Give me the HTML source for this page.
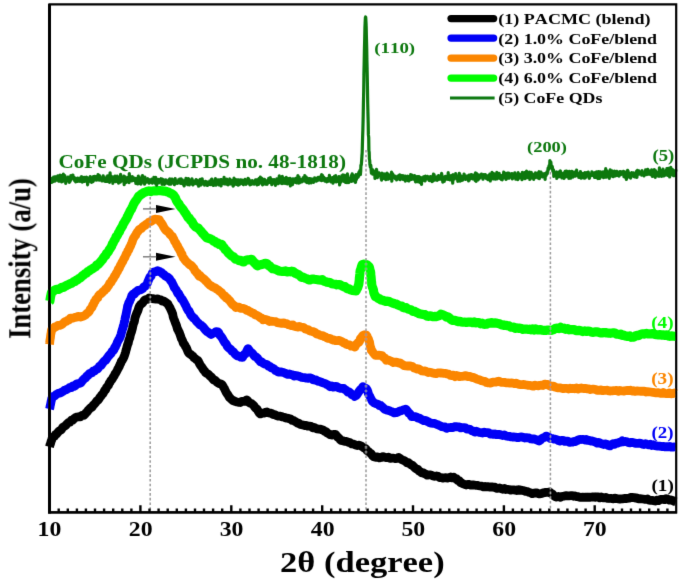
<!DOCTYPE html>
<html><head><meta charset="utf-8"><style>
html,body{margin:0;padding:0;background:#fff;}
body{width:685px;height:583px;overflow:hidden;}
svg{display:block;}
#w{width:685px;height:583px;will-change:transform;}
.t{font-family:"Liberation Serif",serif;font-weight:bold;font-kerning:none;}
</style></head><body>
<div id="w"><svg width="685" height="583" viewBox="0 0 685 583"><defs><filter id="bl" x="0" y="0" width="685" height="583" filterUnits="userSpaceOnUse"><feConvolveMatrix order="3" kernelMatrix="0 1 0 1 8 1 0 1 0" divisor="12" edgeMode="none" preserveAlpha="false"/></filter></defs><rect width="685" height="583" fill="#fff"/><g filter="url(#bl)"><path d="M49.5,446.8 L50.0,444.9 L50.5,443.8 L51.1,441.4 L51.6,440.3 L52.1,438.4 L53.2,436.9 L54.4,436.3 L55.5,434.6 L56.7,433.9 L57.9,432.3 L59.0,431.2 L60.2,430.4 L61.3,429.7 L62.5,427.7 L63.7,426.7 L64.9,426.0 L66.0,425.2 L67.2,423.6 L68.6,422.5 L69.9,422.2 L71.3,420.2 L72.7,420.3 L74.0,418.7 L75.4,417.6 L77.1,417.0 L78.7,416.7 L80.4,416.8 L82.0,415.5 L83.7,415.4 L84.9,414.3 L86.0,412.8 L87.2,411.8 L88.4,410.0 L89.6,408.8 L90.7,407.8 L91.9,407.2 L92.9,405.7 L94.0,404.4 L95.0,403.5 L96.0,402.1 L97.0,400.8 L98.0,400.2 L99.1,398.8 L100.1,397.1 L101.0,396.1 L101.9,394.7 L102.9,393.8 L103.8,392.2 L104.7,390.3 L105.6,389.8 L106.6,387.4 L107.5,386.4 L108.4,385.4 L109.2,383.3 L110.0,382.3 L110.9,380.4 L111.7,379.8 L112.5,378.6 L113.3,377.0 L114.1,376.0 L115.0,373.9 L115.8,373.0 L116.6,371.5 L117.3,370.1 L118.0,368.6 L118.6,367.7 L119.3,366.4 L120.0,364.5 L120.7,363.3 L121.4,361.2 L122.1,360.6 L122.8,359.2 L123.4,358.2 L124.1,356.7 L124.8,354.6 L125.2,353.3 L125.6,352.1 L126.1,349.9 L126.5,348.9 L126.9,347.1 L127.3,345.6 L127.8,344.0 L128.2,343.4 L128.6,341.2 L129.0,339.8 L129.5,338.5 L129.9,337.6 L130.3,335.2 L130.7,334.1 L131.1,332.7 L131.6,331.5 L132.0,329.9 L132.4,328.4 L132.8,326.2 L133.2,324.8 L133.6,323.2 L134.1,322.3 L134.5,320.8 L134.9,318.3 L135.3,316.8 L135.9,315.3 L136.5,313.7 L137.1,312.4 L137.8,310.9 L138.4,308.9 L139.0,307.0 L139.6,305.9 L140.6,304.6 L141.6,303.7 L142.7,302.9 L143.7,301.4 L144.7,300.0 L146.2,299.6 L147.7,299.2 L149.2,298.0 L150.7,298.5 L152.4,298.6 L154.1,298.9 L155.9,299.1 L157.6,298.9 L159.1,299.5 L160.6,299.8 L162.1,301.0 L163.6,301.0 L165.0,301.9 L166.5,303.0 L167.9,303.9 L168.6,305.5 L169.3,306.6 L170.1,308.0 L170.8,309.6 L171.5,311.0 L172.2,312.7 L172.7,314.1 L173.2,316.9 L173.7,318.4 L174.2,319.6 L174.8,321.1 L175.3,322.6 L175.9,324.1 L176.4,325.2 L177.0,327.5 L177.5,329.1 L178.1,329.9 L178.6,331.3 L179.2,332.2 L179.7,333.7 L180.3,335.4 L180.8,336.7 L181.4,338.8 L181.9,339.4 L182.5,340.6 L183.3,343.1 L184.0,344.0 L184.8,344.9 L185.5,346.7 L186.3,347.5 L187.0,349.4 L187.8,351.3 L188.5,352.6 L189.3,353.7 L190.5,354.2 L191.7,355.3 L192.9,356.1 L194.0,357.8 L195.2,358.5 L196.4,359.7 L197.6,360.2 L198.5,361.4 L199.4,363.5 L200.3,365.1 L201.2,366.3 L202.1,367.6 L203.0,369.0 L203.8,370.2 L204.7,370.9 L205.5,372.5 L206.7,373.3 L207.8,373.9 L209.0,374.9 L210.2,376.2 L211.4,377.1 L212.5,378.6 L213.7,379.9 L215.1,380.3 L216.5,381.8 L217.8,382.7 L219.2,383.6 L220.6,383.8 L222.0,384.6 L222.8,385.9 L223.6,387.3 L224.5,388.7 L225.3,390.5 L226.1,392.2 L226.9,393.5 L227.7,394.5 L228.6,396.0 L229.4,397.6 L230.2,398.1 L231.6,399.5 L232.9,400.5 L234.3,401.0 L235.7,401.6 L237.0,402.0 L238.4,402.3 L240.1,402.5 L241.7,401.4 L243.4,401.4 L245.0,401.1 L246.7,399.9 L247.9,400.9 L249.0,402.5 L250.2,403.2 L251.4,403.5 L252.6,404.4 L253.7,405.4 L254.9,407.3 L256.0,408.5 L257.1,409.1 L258.2,411.3 L259.3,412.9 L260.4,413.9 L262.0,413.2 L263.7,413.2 L265.3,412.4 L267.0,412.0 L268.6,412.9 L270.2,413.1 L271.7,413.5 L273.3,414.6 L274.9,414.6 L276.5,415.7 L278.0,416.2 L279.6,416.1 L281.2,416.5 L282.7,417.0 L284.3,417.3 L285.9,418.1 L287.5,418.1 L289.0,418.7 L290.6,418.8 L292.0,420.4 L293.3,420.4 L294.7,421.2 L296.1,422.1 L297.4,423.1 L298.8,423.2 L300.1,424.5 L301.5,424.7 L303.1,425.1 L304.6,425.5 L306.2,425.3 L307.8,426.2 L309.4,426.2 L310.9,426.4 L312.5,427.8 L314.1,427.4 L315.6,428.2 L317.2,428.9 L318.8,429.1 L320.4,429.2 L321.9,429.8 L323.5,430.3 L324.8,431.5 L326.1,431.6 L327.4,433.1 L328.7,433.7 L330.0,434.6 L331.8,435.0 L333.7,434.4 L335.5,434.3 L336.6,435.8 L337.7,437.2 L338.8,437.9 L339.9,439.3 L341.0,440.4 L342.8,440.8 L344.7,441.4 L346.5,441.4 L348.3,442.2 L350.2,442.8 L352.0,444.0 L353.8,444.2 L355.6,445.0 L357.4,445.5 L359.2,445.2 L361.1,446.1 L362.9,447.0 L364.0,448.0 L365.1,448.3 L366.2,449.3 L367.3,450.8 L368.4,451.5 L369.8,452.8 L371.1,453.7 L372.5,455.6 L373.9,456.8 L375.7,457.3 L377.6,456.8 L379.4,457.8 L381.2,457.5 L383.1,456.6 L384.9,457.3 L386.6,457.7 L388.4,457.2 L390.1,458.4 L391.8,458.1 L393.5,458.1 L395.2,458.6 L396.9,458.3 L398.6,457.4 L400.0,458.5 L401.4,459.4 L402.7,460.0 L404.1,460.6 L405.6,461.5 L407.1,462.8 L408.5,462.7 L410.0,464.1 L411.3,464.9 L412.6,465.4 L413.8,466.7 L415.1,468.1 L416.4,468.9 L417.7,469.2 L419.1,471.1 L420.4,471.7 L421.7,472.8 L423.0,472.6 L424.4,473.6 L425.7,474.1 L427.2,475.2 L428.8,474.8 L430.4,474.9 L431.9,475.4 L433.4,476.2 L435.0,476.3 L436.6,476.0 L438.1,476.3 L439.7,477.6 L441.3,477.6 L442.8,478.1 L444.4,477.8 L445.9,477.6 L447.5,478.1 L449.0,477.6 L450.6,477.0 L452.1,477.8 L453.7,477.3 L455.0,478.5 L456.4,478.6 L457.7,480.5 L459.1,480.6 L460.4,482.5 L461.8,483.0 L463.1,483.9 L464.7,484.4 L466.2,485.0 L467.8,484.4 L469.3,484.5 L470.8,485.1 L472.4,485.0 L474.0,485.0 L475.5,485.3 L477.1,485.3 L478.7,485.7 L480.2,486.0 L481.8,486.2 L483.5,486.9 L485.1,486.5 L486.8,486.9 L488.4,486.7 L490.1,487.1 L491.7,486.9 L493.4,487.3 L495.0,487.2 L496.5,488.3 L498.1,488.3 L499.7,488.0 L501.2,488.6 L502.8,489.3 L504.4,488.5 L505.9,489.5 L507.5,489.3 L509.0,489.5 L510.6,490.1 L512.1,489.8 L513.7,489.9 L515.2,490.1 L516.8,490.5 L518.4,489.7 L519.9,490.3 L521.5,490.1 L523.0,490.6 L524.6,491.0 L526.1,491.5 L527.7,491.7 L529.2,492.4 L530.8,492.9 L532.4,493.7 L533.9,493.1 L535.5,493.0 L537.1,492.9 L538.6,493.8 L540.2,493.8 L541.8,493.4 L543.3,492.8 L544.9,492.5 L546.4,492.4 L548.0,492.4 L549.5,491.9 L550.9,493.2 L552.3,493.9 L553.7,495.6 L555.1,496.5 L556.5,497.0 L558.5,496.5 L560.6,497.3 L562.3,496.3 L564.0,496.2 L565.8,495.6 L567.5,495.9 L569.2,495.8 L570.9,495.7 L572.4,495.6 L573.8,496.3 L575.3,496.0 L576.8,496.6 L578.3,496.7 L579.7,497.4 L581.2,497.3 L582.7,497.1 L584.3,497.3 L585.8,497.1 L587.4,497.4 L588.9,497.1 L590.4,497.3 L592.0,497.0 L593.5,497.0 L595.0,497.3 L596.6,496.8 L598.1,496.9 L599.7,497.8 L601.2,497.0 L602.8,497.8 L604.4,497.8 L605.9,497.3 L607.4,498.3 L609.0,498.5 L610.5,498.3 L612.0,498.6 L613.6,498.8 L615.1,498.1 L616.7,498.7 L618.2,498.8 L619.8,499.1 L621.3,498.9 L622.9,498.8 L624.4,498.4 L626.0,498.6 L627.5,498.3 L629.1,498.2 L630.6,497.5 L632.1,497.4 L633.7,497.6 L635.2,498.0 L636.8,497.8 L638.3,498.8 L639.8,498.6 L641.4,498.8 L642.9,499.0 L644.4,499.3 L646.0,499.3 L647.5,499.0 L649.1,500.2 L650.6,500.4 L652.2,500.4 L653.8,500.7 L655.3,501.1 L656.8,500.1 L658.4,500.7 L659.9,499.8 L661.5,499.3 L663.0,499.3 L664.5,499.6 L666.1,498.7 L667.6,499.1 L669.3,500.0 L670.9,500.0 L672.6,500.5 L674.2,501.3 L675.9,501.9" fill="none" stroke="#000000" stroke-width="8.8" stroke-linejoin="round" stroke-linecap="butt"/><path d="M49.5,409.2 L49.9,407.7 L50.2,405.8 L50.6,404.2 L51.0,401.9 L51.4,400.3 L51.7,398.8 L52.1,397.7 L53.5,396.4 L54.8,395.9 L56.2,394.5 L57.6,393.7 L59.0,393.2 L60.3,392.9 L61.7,392.1 L63.1,391.4 L64.5,390.3 L65.8,389.9 L67.2,389.1 L68.6,388.4 L70.0,387.3 L71.3,387.6 L72.7,386.0 L74.1,386.3 L75.4,385.6 L76.8,383.8 L78.2,383.6 L79.5,383.4 L80.9,382.9 L82.1,381.1 L83.3,379.7 L84.5,378.4 L85.6,378.1 L86.8,376.1 L88.0,375.4 L89.2,373.7 L90.6,373.2 L91.9,372.8 L93.3,370.9 L94.7,370.8 L96.0,369.5 L97.4,369.1 L98.6,367.7 L99.7,365.9 L100.9,365.6 L102.1,363.9 L103.3,362.2 L104.4,361.0 L105.6,360.4 L106.5,359.1 L107.4,357.7 L108.4,356.3 L109.3,355.3 L110.2,354.1 L111.1,353.5 L112.1,351.2 L113.0,350.9 L113.9,349.8 L114.6,347.6 L115.3,347.2 L115.9,345.5 L116.6,344.4 L117.3,342.3 L118.0,341.0 L118.7,339.7 L119.3,339.0 L120.0,337.2 L120.7,335.5 L121.1,334.1 L121.5,332.4 L122.0,330.6 L122.4,329.1 L122.8,328.5 L123.2,326.3 L123.7,325.6 L124.1,323.2 L124.5,321.7 L124.8,320.4 L125.1,318.4 L125.4,317.0 L125.7,316.1 L126.0,314.5 L126.4,312.8 L126.7,311.0 L127.0,309.7 L127.3,308.1 L127.6,306.1 L128.2,304.8 L128.8,302.5 L129.4,301.9 L130.1,300.1 L130.7,298.9 L131.3,297.3 L131.9,295.4 L133.1,294.1 L134.3,294.2 L135.5,292.2 L136.7,291.6 L137.9,290.4 L140.0,290.0 L141.3,289.4 L142.6,288.7 L143.9,286.8 L145.2,286.2 L146.5,284.8 L147.2,283.5 L147.9,281.8 L148.6,280.0 L149.3,278.4 L150.0,276.9 L150.9,276.3 L151.8,274.4 L152.6,272.6 L153.5,272.0 L155.5,271.7 L157.5,270.7 L158.8,271.1 L160.2,271.9 L161.5,272.5 L162.8,273.9 L164.2,274.8 L165.5,276.1 L167.3,277.0 L169.2,278.3 L170.4,280.4 L171.7,281.9 L172.3,283.0 L173.0,284.5 L173.7,286.1 L174.3,287.5 L175.2,288.7 L176.0,289.6 L176.8,291.2 L177.7,293.3 L178.7,293.7 L179.6,295.6 L180.6,297.2 L181.5,299.0 L182.5,299.7 L183.4,301.2 L184.2,302.7 L185.1,304.4 L186.0,305.9 L186.7,307.9 L187.5,309.2 L188.2,310.6 L189.0,311.0 L189.7,312.4 L190.6,314.5 L191.6,316.0 L192.5,316.7 L193.4,318.1 L194.5,318.5 L195.6,320.0 L196.7,321.7 L197.8,322.6 L198.9,323.7 L200.1,325.0 L201.2,325.3 L202.4,326.3 L203.5,327.5 L204.7,329.1 L205.8,330.4 L207.1,331.7 L208.4,332.4 L209.7,333.3 L211.0,334.4 L212.7,333.4 L214.4,332.9 L216.1,331.6 L217.8,331.8 L218.6,332.5 L219.5,334.7 L220.3,335.7 L221.2,336.6 L222.0,337.8 L222.9,339.3 L223.8,341.1 L224.7,342.6 L225.6,343.3 L226.5,344.6 L227.4,346.5 L228.6,347.8 L229.8,348.7 L231.0,349.7 L232.1,351.3 L233.3,351.8 L234.5,353.3 L235.7,354.7 L237.4,355.9 L239.1,356.2 L240.8,357.2 L242.5,357.4 L243.4,355.7 L244.3,354.4 L245.2,353.9 L246.2,352.2 L247.1,350.3 L248.0,348.6 L249.2,350.3 L250.3,351.7 L251.4,352.6 L252.6,353.5 L253.8,355.2 L254.9,356.6 L256.0,356.9 L257.1,357.7 L258.2,359.2 L259.3,360.4 L260.4,361.8 L261.8,361.9 L263.1,363.3 L264.5,363.9 L265.9,364.3 L267.2,364.7 L268.6,366.3 L270.0,366.4 L271.3,367.9 L272.7,368.1 L274.1,369.0 L275.4,370.6 L276.8,371.0 L278.4,372.1 L279.9,372.0 L281.5,372.0 L283.1,372.4 L284.7,373.0 L286.2,373.7 L287.8,374.4 L289.4,373.9 L290.9,374.6 L292.5,374.8 L294.1,376.1 L295.7,375.5 L297.2,375.8 L298.8,376.2 L300.4,376.8 L301.9,377.5 L303.5,377.7 L305.1,377.7 L306.7,378.2 L308.2,378.3 L309.8,377.8 L311.4,378.2 L312.9,379.7 L314.5,380.1 L316.0,379.8 L317.6,381.1 L319.1,381.4 L320.7,381.9 L322.2,382.6 L323.8,383.1 L325.4,383.6 L326.9,384.6 L328.4,385.3 L330.0,386.7 L331.7,385.9 L333.4,387.1 L335.2,386.4 L336.9,386.7 L338.6,387.8 L340.3,388.3 L342.0,388.3 L343.7,388.4 L345.1,389.7 L346.4,390.4 L347.8,392.0 L349.2,391.9 L350.6,393.2 L351.9,394.9 L353.3,394.9 L354.7,396.4 L356.1,395.5 L357.4,394.0 L358.8,391.7 L359.8,390.4 L360.9,389.1 L361.9,388.8 L362.9,386.6 L364.6,387.8 L366.4,388.7 L367.1,389.7 L367.8,391.4 L368.4,393.9 L369.1,395.2 L369.8,396.2 L370.5,398.1 L371.1,399.0 L371.8,400.4 L372.5,401.4 L374.3,403.0 L376.2,403.8 L378.0,404.2 L379.4,405.6 L380.8,405.5 L382.1,406.8 L383.5,408.1 L384.9,409.3 L386.2,410.0 L387.6,410.1 L389.0,410.6 L390.7,411.3 L392.4,411.9 L394.2,412.9 L395.9,412.5 L397.3,412.5 L398.6,411.6 L400.0,410.9 L401.9,410.4 L403.9,409.8 L405.8,409.1 L406.8,410.3 L407.8,411.5 L408.8,413.2 L409.7,413.5 L410.7,414.9 L411.7,416.7 L413.2,416.5 L414.8,416.6 L416.4,417.0 L417.9,418.0 L419.4,418.1 L421.0,419.3 L422.4,419.9 L423.8,420.7 L425.2,420.5 L426.6,421.0 L428.0,421.7 L429.6,422.6 L431.1,423.2 L432.7,423.3 L434.3,423.4 L435.8,424.0 L437.4,424.6 L438.9,425.3 L440.5,426.0 L442.0,426.7 L443.6,427.0 L445.1,427.0 L446.7,428.4 L448.3,427.6 L449.8,427.7 L451.4,427.3 L453.0,427.6 L454.5,426.7 L456.1,426.6 L457.7,426.8 L459.2,426.9 L460.8,427.9 L462.3,427.7 L463.8,427.6 L465.4,427.9 L466.9,429.2 L468.5,429.2 L470.0,429.4 L471.6,430.7 L473.1,431.1 L474.7,432.1 L476.3,431.2 L477.8,431.9 L479.4,432.5 L481.0,432.7 L482.5,433.0 L484.1,432.1 L485.7,432.7 L487.2,432.6 L488.8,432.9 L490.3,434.1 L491.8,433.8 L493.4,434.4 L495.0,433.9 L496.5,434.7 L498.1,434.4 L499.7,434.3 L501.2,435.1 L502.8,435.5 L504.4,434.9 L505.9,435.9 L507.5,436.3 L509.0,436.3 L510.6,436.8 L512.1,437.0 L513.7,437.0 L515.2,437.1 L516.8,437.5 L518.4,437.6 L519.9,437.0 L521.5,436.8 L523.0,437.4 L524.6,438.0 L526.1,437.6 L527.7,437.9 L529.2,438.0 L530.8,438.9 L532.4,439.0 L534.1,438.9 L535.7,439.5 L537.4,440.3 L539.0,441.0 L540.4,440.1 L541.8,438.5 L543.2,437.7 L544.6,437.4 L546.0,436.1 L547.5,436.5 L548.9,437.1 L550.3,438.5 L551.8,438.3 L553.5,439.0 L555.1,439.1 L556.8,439.6 L558.5,440.5 L560.0,441.0 L561.6,440.5 L563.1,440.5 L564.7,441.4 L566.2,441.1 L567.8,441.1 L569.4,442.4 L570.9,442.1 L572.4,442.2 L574.0,441.3 L575.5,441.5 L577.0,440.6 L578.6,439.9 L580.1,439.3 L581.7,439.5 L583.2,439.3 L584.8,440.0 L586.3,439.4 L587.9,440.4 L589.4,440.5 L591.0,441.0 L592.5,441.0 L594.1,441.6 L595.6,442.2 L597.2,443.1 L598.8,442.4 L600.4,443.2 L602.0,443.9 L603.6,444.5 L605.2,443.9 L606.8,444.2 L608.4,445.5 L610.0,445.9 L611.5,444.8 L613.1,443.7 L614.6,444.3 L616.1,443.1 L617.7,443.2 L619.2,442.4 L620.8,442.1 L622.3,440.8 L623.8,441.8 L625.4,441.4 L627.0,441.8 L628.5,442.6 L630.0,442.8 L631.6,442.3 L633.2,442.6 L634.7,443.1 L636.2,443.4 L637.8,443.3 L639.3,443.2 L640.9,443.4 L642.4,444.2 L643.9,444.5 L645.5,443.6 L647.0,444.4 L648.5,444.9 L650.1,444.2 L651.6,445.5 L653.2,444.8 L654.8,445.7 L656.3,445.9 L657.9,446.2 L659.4,446.1 L660.9,446.3 L662.4,446.6 L663.9,446.5 L665.4,446.9 L666.9,446.7 L668.4,446.8 L669.9,446.4 L671.4,447.2 L672.9,447.1 L674.4,446.9 L675.9,447.3" fill="none" stroke="#0000f6" stroke-width="8.8" stroke-linejoin="round" stroke-linecap="butt"/><path d="M49.5,344.3 L49.7,342.8 L49.9,340.8 L50.2,338.9 L50.4,337.7 L50.6,335.8 L50.8,334.2 L51.1,333.0 L51.3,331.1 L51.5,329.9 L53.1,328.8 L54.6,327.1 L56.2,326.7 L57.9,325.3 L59.7,325.4 L61.4,324.7 L63.1,323.4 L64.8,321.8 L66.5,321.3 L67.8,320.3 L69.1,320.0 L70.4,318.2 L71.7,318.1 L73.4,318.0 L75.1,317.3 L76.8,317.1 L78.5,316.3 L80.3,317.1 L82.0,316.5 L83.7,316.0 L85.4,315.0 L87.1,313.1 L88.1,312.6 L89.2,311.5 L90.2,309.2 L91.2,308.3 L92.0,307.3 L92.7,305.1 L93.5,304.5 L94.2,302.2 L95.0,301.4 L95.9,299.4 L96.8,298.6 L97.7,297.9 L98.6,295.8 L99.5,294.7 L100.8,294.0 L102.0,292.8 L103.2,291.4 L104.5,290.6 L105.5,289.1 L106.6,288.5 L107.7,286.7 L108.7,285.5 L109.8,283.1 L111.0,282.3 L112.1,280.0 L112.9,279.2 L113.7,277.9 L114.5,276.2 L115.3,275.4 L116.1,273.6 L116.9,272.3 L117.6,271.3 L118.3,269.0 L119.1,268.7 L119.8,266.9 L120.5,265.2 L121.2,264.4 L121.9,262.4 L122.6,261.9 L123.3,260.1 L124.1,258.5 L124.8,257.7 L125.5,255.9 L126.3,254.0 L127.1,253.1 L127.9,250.7 L128.7,250.0 L129.5,247.7 L130.1,246.8 L130.7,245.7 L131.3,243.9 L132.0,242.5 L132.6,240.7 L133.2,238.9 L134.0,237.5 L134.8,236.2 L135.6,235.4 L136.3,233.8 L137.1,232.4 L137.9,231.5 L139.1,229.7 L140.3,228.9 L141.5,228.5 L142.7,226.8 L143.9,225.9 L145.1,225.4 L146.3,224.1 L147.5,223.5 L148.7,222.4 L149.9,221.9 L151.6,221.0 L153.3,219.6 L155.0,219.1 L157.2,219.5 L159.3,219.6 L160.2,221.9 L161.0,222.4 L161.8,223.7 L162.7,225.0 L163.7,227.2 L164.8,228.9 L165.8,230.3 L166.9,231.0 L168.0,231.9 L169.1,232.7 L170.1,234.5 L171.2,235.5 L172.3,236.3 L173.0,238.0 L173.8,239.1 L174.5,241.1 L175.2,242.2 L175.9,243.0 L176.7,245.1 L177.4,245.5 L178.1,247.5 L178.9,248.7 L179.6,250.0 L180.4,251.2 L181.1,253.5 L181.9,254.0 L182.6,256.1 L183.4,258.0 L184.2,258.6 L185.0,260.1 L186.2,261.6 L187.4,262.5 L188.6,263.7 L189.7,264.9 L190.9,265.1 L192.1,266.3 L193.0,267.5 L193.9,268.4 L194.8,270.6 L195.8,271.6 L196.7,272.8 L197.6,273.1 L198.5,275.3 L199.4,276.4 L200.0,275.5 L201.2,277.0 L202.3,277.8 L203.5,278.7 L204.7,279.7 L205.9,281.0 L207.0,282.0 L208.2,283.5 L209.6,284.9 L210.9,285.7 L212.3,286.7 L213.7,287.4 L215.1,287.7 L216.4,288.9 L217.8,289.7 L219.2,290.9 L220.4,291.8 L221.5,292.7 L222.7,294.3 L223.9,295.8 L225.1,296.1 L226.2,298.1 L227.4,298.2 L228.6,299.7 L229.8,300.8 L231.0,302.6 L232.1,304.0 L233.3,305.0 L234.5,305.6 L235.7,307.5 L237.3,307.1 L239.0,307.2 L240.6,308.3 L242.3,308.3 L243.9,308.6 L245.3,309.3 L246.6,310.3 L248.0,310.4 L249.4,311.5 L250.7,312.1 L252.1,312.9 L253.5,313.3 L254.8,314.5 L256.2,315.2 L257.6,315.7 L259.0,316.5 L260.4,317.8 L261.7,318.0 L263.1,319.9 L264.7,319.4 L266.2,319.6 L267.8,320.1 L269.4,321.5 L271.0,321.1 L272.5,321.3 L274.1,321.5 L275.7,321.7 L277.2,322.7 L278.8,322.9 L280.4,323.1 L282.0,323.4 L283.5,322.8 L285.1,323.6 L286.7,323.7 L288.2,324.7 L289.8,325.0 L291.3,325.5 L292.9,324.9 L294.4,326.3 L296.0,326.7 L297.6,327.1 L299.1,326.5 L300.7,327.0 L302.3,327.3 L303.9,327.6 L305.4,329.0 L307.0,329.4 L308.4,329.8 L309.8,330.8 L311.1,331.2 L312.5,331.5 L313.9,332.0 L315.2,332.6 L316.6,334.1 L318.0,334.1 L319.6,334.9 L321.1,335.6 L322.7,335.7 L324.3,336.6 L325.9,337.2 L327.4,338.3 L329.0,338.4 L330.7,338.8 L332.4,340.0 L334.1,339.9 L335.8,340.7 L337.6,340.7 L339.3,340.4 L341.0,341.2 L342.4,341.9 L343.7,343.0 L345.1,343.2 L346.4,344.3 L347.8,344.7 L349.5,344.9 L351.2,346.2 L353.0,345.8 L354.7,347.2 L355.7,345.2 L356.8,343.8 L357.8,342.8 L358.8,342.3 L359.6,341.2 L360.4,338.6 L361.3,337.8 L362.1,336.5 L362.9,335.5 L364.6,334.7 L366.4,335.1 L367.1,336.3 L367.8,338.2 L368.4,338.9 L369.1,341.1 L369.5,341.9 L369.8,343.5 L370.1,345.6 L370.5,347.0 L370.9,348.1 L371.2,350.4 L372.2,350.9 L373.2,352.9 L374.3,354.0 L375.3,355.3 L377.0,355.3 L378.7,355.2 L380.4,355.4 L382.1,355.6 L383.5,357.5 L384.9,357.9 L386.3,360.3 L388.1,359.9 L390.0,360.8 L391.8,361.6 L393.5,362.5 L395.2,362.2 L396.9,362.2 L398.6,363.0 L400.0,362.9 L401.4,363.9 L402.7,364.6 L404.1,365.6 L405.8,365.9 L407.6,366.0 L409.3,365.9 L411.0,366.2 L412.6,366.6 L414.1,368.0 L415.7,368.4 L417.3,369.1 L418.9,369.0 L420.4,369.9 L422.0,370.9 L423.6,371.1 L425.1,370.9 L426.7,371.7 L428.2,372.6 L429.8,372.2 L431.3,372.5 L432.9,373.1 L434.5,373.5 L436.0,373.7 L437.6,372.9 L439.2,372.9 L440.8,373.0 L442.3,373.1 L443.9,373.3 L445.5,373.3 L447.0,373.9 L448.6,374.1 L450.2,375.4 L451.8,375.5 L453.3,375.1 L454.9,376.6 L456.5,375.5 L458.0,375.9 L459.6,376.6 L461.2,376.4 L462.8,376.3 L464.3,375.9 L465.9,375.6 L467.5,376.6 L469.0,376.3 L470.6,376.8 L472.1,377.5 L473.7,377.4 L475.2,378.3 L476.8,379.1 L478.4,379.6 L479.9,380.0 L481.5,380.7 L483.1,381.1 L484.7,381.3 L486.2,382.4 L487.8,382.8 L489.4,383.0 L490.9,383.0 L492.5,382.2 L494.1,382.2 L495.7,382.2 L497.2,381.6 L498.8,381.2 L500.4,382.0 L501.9,382.4 L503.5,382.4 L505.1,382.5 L506.7,382.9 L508.2,382.9 L509.8,383.1 L511.4,383.0 L512.9,383.1 L514.5,383.7 L516.0,383.2 L517.6,383.8 L519.1,384.4 L520.7,384.6 L522.3,384.7 L523.8,384.4 L525.4,384.8 L527.0,385.0 L528.6,385.4 L530.1,385.4 L531.7,385.9 L533.4,386.2 L535.0,385.2 L536.7,385.7 L538.3,385.8 L540.0,385.3 L541.5,385.1 L543.1,385.5 L544.7,384.1 L546.2,384.5 L547.7,384.4 L549.1,385.6 L550.6,386.3 L552.1,386.2 L553.6,386.1 L555.0,387.1 L556.5,387.5 L558.2,387.9 L559.9,387.8 L561.6,388.2 L563.4,388.6 L565.1,388.4 L566.8,388.4 L568.4,389.0 L570.0,388.2 L571.6,388.7 L573.2,388.4 L574.8,388.8 L576.4,388.0 L578.0,389.1 L579.6,388.3 L581.2,388.0 L582.7,388.4 L584.3,388.6 L585.8,388.3 L587.4,388.9 L588.9,389.0 L590.4,389.5 L592.0,389.2 L593.5,389.2 L595.0,389.3 L596.6,390.1 L598.1,390.4 L599.7,390.1 L601.2,389.9 L602.8,390.7 L604.4,390.3 L605.9,390.3 L607.4,390.2 L609.0,390.9 L610.5,391.0 L612.0,390.8 L613.6,390.6 L615.1,390.7 L616.7,390.3 L618.2,391.2 L619.8,390.4 L621.3,390.8 L622.9,391.0 L624.4,391.0 L626.0,390.6 L627.5,390.4 L629.1,390.7 L630.6,390.2 L632.1,391.1 L633.7,390.7 L635.2,391.4 L636.8,390.8 L638.3,391.1 L639.8,391.1 L641.4,391.4 L642.9,391.2 L644.4,391.1 L646.0,392.1 L647.5,391.7 L649.1,391.8 L650.6,392.0 L652.2,392.3 L653.8,392.4 L655.3,392.8 L656.9,392.9 L658.5,392.6 L660.1,393.4 L661.6,393.4 L663.2,392.5 L664.8,393.5 L666.4,393.7 L668.0,393.6 L669.6,392.9 L671.1,393.8 L672.7,393.7 L674.3,393.0 L675.9,393.7" fill="none" stroke="#fb8604" stroke-width="8.8" stroke-linejoin="round" stroke-linecap="butt"/><path d="M49.5,301.4 L49.9,301.0 L50.2,299.0 L50.5,297.0 L50.9,295.2 L51.2,293.7 L51.6,292.2 L52.9,291.8 L54.2,290.3 L56.2,289.3 L58.3,289.5 L60.0,288.7 L61.7,287.3 L63.4,287.5 L64.7,286.4 L66.0,285.8 L67.3,285.0 L68.6,284.5 L70.3,283.7 L72.0,283.1 L73.7,281.6 L75.0,281.4 L76.3,280.3 L77.6,279.7 L78.9,278.4 L80.2,278.1 L81.5,276.8 L82.7,275.6 L84.0,274.7 L85.3,273.6 L86.6,273.0 L87.9,271.5 L89.2,271.0 L90.5,269.7 L91.8,269.2 L93.0,268.4 L94.3,267.5 L95.6,266.8 L96.9,264.7 L98.2,264.5 L99.5,263.0 L100.6,261.7 L101.7,260.4 L102.7,259.3 L103.8,257.3 L104.7,256.2 L105.7,255.6 L106.6,253.2 L107.5,252.7 L108.5,251.4 L109.4,249.4 L110.1,248.7 L110.9,247.4 L111.6,246.2 L112.3,244.1 L113.0,243.4 L113.8,241.4 L114.5,240.0 L115.3,239.1 L116.1,236.6 L116.9,236.1 L117.7,234.6 L118.5,232.8 L119.3,232.0 L120.1,229.9 L120.9,228.6 L121.7,227.2 L122.5,226.0 L123.3,223.9 L124.1,222.7 L124.9,221.3 L125.7,220.0 L126.5,218.9 L127.2,216.9 L127.9,216.1 L128.6,214.2 L129.3,212.9 L130.0,211.2 L130.7,210.1 L131.4,209.3 L132.1,207.5 L132.8,206.3 L133.5,204.3 L134.3,203.0 L135.1,201.7 L135.9,200.7 L136.7,199.5 L137.5,198.3 L138.7,196.1 L139.8,195.6 L141.0,194.5 L142.6,193.5 L144.2,192.4 L145.7,192.1 L147.3,191.2 L148.9,190.9 L150.6,191.6 L152.3,191.0 L154.0,190.9 L155.7,190.8 L157.4,190.8 L159.0,190.6 L160.7,190.7 L162.3,190.9 L164.0,191.1 L165.6,191.1 L167.1,191.9 L168.5,192.0 L170.0,193.2 L171.4,193.7 L172.9,194.7 L173.8,195.3 L174.6,196.8 L175.5,198.0 L176.3,200.2 L177.2,201.8 L178.0,202.8 L178.9,203.8 L179.8,205.7 L180.8,207.0 L181.7,208.1 L182.6,209.0 L183.6,210.4 L184.5,211.9 L185.4,213.1 L186.4,214.6 L187.3,216.2 L188.3,217.9 L189.4,218.2 L190.4,220.2 L191.4,220.9 L192.4,222.4 L193.5,224.6 L194.5,225.7 L195.7,227.1 L196.9,227.6 L198.2,228.1 L199.4,229.5 L200.6,230.8 L201.8,232.2 L202.7,233.6 L203.7,234.3 L204.6,235.6 L205.5,236.5 L206.9,237.9 L208.2,238.1 L209.6,238.7 L211.0,239.2 L212.3,239.9 L213.7,241.4 L215.1,241.4 L216.5,243.1 L217.8,242.8 L219.2,244.4 L220.6,244.2 L222.0,244.7 L223.1,246.9 L224.2,247.7 L225.2,249.7 L226.3,250.4 L227.4,251.6 L228.6,253.4 L229.8,254.3 L231.0,255.5 L232.1,256.3 L233.3,256.5 L234.5,258.2 L235.7,259.3 L237.3,259.5 L239.0,260.6 L240.6,260.3 L242.3,261.7 L243.9,262.0 L245.6,260.4 L247.4,259.8 L249.1,259.9 L250.8,259.4 L251.9,259.6 L253.1,261.1 L254.2,262.7 L255.3,263.2 L256.5,265.2 L257.6,265.9 L259.3,264.8 L260.9,264.6 L262.6,264.3 L264.2,263.6 L265.9,263.3 L267.3,263.8 L268.6,265.7 L270.0,266.2 L271.3,267.7 L272.7,268.8 L274.3,269.0 L275.9,269.4 L277.5,270.3 L279.1,271.0 L280.7,271.3 L282.3,271.5 L283.9,271.2 L285.4,270.9 L287.0,272.0 L288.6,271.6 L290.2,271.8 L291.7,271.2 L293.3,271.5 L294.7,272.9 L296.0,273.6 L297.4,274.2 L298.8,274.8 L300.1,275.8 L301.5,277.3 L303.2,277.2 L304.8,278.1 L306.5,278.6 L308.1,279.5 L309.8,280.0 L311.4,279.3 L312.9,279.0 L314.5,279.3 L316.0,279.5 L317.6,279.7 L319.1,280.0 L320.7,280.1 L322.2,279.6 L323.8,281.1 L325.4,281.6 L326.9,282.2 L328.4,282.4 L330.0,282.6 L331.7,283.7 L333.4,284.0 L335.2,284.2 L336.9,284.8 L338.6,284.6 L340.3,284.9 L342.0,285.9 L343.7,286.8 L345.1,286.7 L346.5,288.1 L347.8,289.0 L349.2,288.8 L350.6,289.9 L352.4,290.5 L354.3,290.7 L356.1,290.8 L356.8,289.2 L357.5,288.1 L358.1,286.4 L358.8,284.3 L359.0,282.3 L359.1,281.6 L359.3,280.1 L359.4,277.9 L359.6,276.8 L359.7,275.6 L359.9,274.1 L360.0,272.1 L360.2,270.6 L360.9,268.8 L361.5,266.5 L362.2,264.6 L363.9,264.1 L365.7,264.2 L367.4,265.1 L369.1,266.6 L369.6,268.2 L370.0,270.2 L370.5,271.6 L370.7,273.0 L370.8,275.6 L371.0,276.4 L371.1,277.6 L371.3,279.8 L371.4,281.5 L371.6,282.2 L371.7,284.3 L371.9,285.5 L372.4,287.3 L372.9,288.3 L373.4,289.9 L373.8,292.6 L374.3,294.0 L374.8,295.1 L375.3,296.8 L376.7,297.1 L378.1,298.4 L379.4,298.6 L380.8,299.9 L382.5,300.2 L384.2,300.8 L385.9,301.5 L387.6,301.2 L389.3,301.6 L391.1,302.5 L392.8,303.1 L394.5,303.7 L396.3,304.1 L398.2,305.1 L400.0,305.9 L401.6,306.1 L403.1,307.4 L404.7,308.0 L406.3,307.7 L407.9,309.0 L409.4,309.4 L411.0,309.7 L412.6,311.3 L414.1,311.1 L415.7,312.0 L417.3,312.7 L418.9,313.7 L420.4,313.9 L422.0,314.2 L423.6,314.6 L425.1,314.7 L426.7,316.0 L428.2,316.4 L429.8,315.9 L431.3,316.1 L432.9,316.7 L434.5,316.4 L436.1,316.6 L437.7,316.1 L439.3,315.6 L440.9,314.2 L442.5,314.6 L443.9,315.3 L445.2,316.0 L446.6,317.2 L448.0,316.9 L449.4,317.8 L450.7,319.3 L452.1,320.3 L453.7,320.4 L455.2,320.3 L456.8,321.1 L458.4,321.7 L460.0,321.3 L461.5,321.9 L463.1,322.2 L464.7,322.0 L466.2,322.5 L467.8,322.1 L469.4,322.2 L471.0,322.1 L472.5,322.7 L474.1,321.9 L475.7,323.0 L477.2,322.5 L478.8,322.5 L480.4,323.8 L482.0,323.2 L483.5,324.2 L485.1,324.3 L486.7,324.1 L488.3,323.0 L489.9,323.1 L491.5,322.5 L493.1,323.2 L494.7,322.9 L496.3,323.1 L497.9,323.4 L499.5,323.7 L501.1,324.8 L502.7,324.8 L504.3,325.5 L505.9,325.3 L507.4,325.7 L509.0,325.9 L510.6,327.1 L512.2,327.3 L513.7,327.2 L515.3,328.4 L516.9,327.9 L518.4,328.3 L520.0,328.2 L521.5,328.5 L523.1,329.4 L524.6,329.0 L526.2,329.0 L527.8,329.4 L529.3,329.2 L530.9,329.9 L532.5,328.9 L534.1,330.0 L535.6,328.9 L537.2,329.9 L538.8,329.9 L540.5,329.6 L542.1,330.2 L543.8,330.3 L545.4,330.5 L547.0,330.1 L548.7,330.0 L550.3,330.4 L552.0,330.1 L553.7,329.6 L555.5,328.3 L557.2,328.2 L558.9,328.6 L560.6,327.3 L562.3,328.4 L564.0,328.2 L565.8,329.4 L567.5,328.6 L569.2,329.8 L570.9,329.6 L572.6,329.6 L574.3,329.6 L576.0,330.7 L577.8,330.6 L579.5,330.3 L581.2,330.8 L582.9,331.6 L584.6,330.9 L586.4,331.5 L588.1,331.1 L589.8,331.3 L591.5,332.2 L593.2,332.3 L594.9,331.9 L596.6,331.9 L598.4,332.1 L600.1,332.9 L601.8,332.9 L603.5,332.6 L605.2,332.5 L606.9,333.0 L608.6,333.1 L610.3,333.3 L612.0,333.0 L613.5,332.8 L614.9,333.0 L616.4,334.1 L617.9,334.0 L619.4,334.7 L620.8,334.2 L622.3,335.4 L623.8,335.1 L625.2,336.0 L626.7,336.3 L628.2,336.2 L629.7,335.9 L631.1,337.3 L632.6,337.1 L634.1,337.1 L635.5,335.9 L637.0,335.4 L638.5,335.7 L640.0,334.7 L641.4,334.0 L642.9,333.8 L644.6,334.1 L646.3,333.4 L648.0,334.0 L649.8,333.9 L651.5,334.0 L653.2,333.5 L654.9,334.4 L656.6,334.7 L658.4,334.9 L660.1,334.5 L661.8,335.1 L663.5,334.9 L665.0,335.5 L666.6,334.8 L668.1,336.0 L669.7,336.3 L671.2,335.9 L672.8,336.1 L674.4,336.3 L675.9,336.5" fill="none" stroke="#00fc00" stroke-width="9.2" stroke-linejoin="round" stroke-linecap="butt"/><path d="M49.5,178.6 L49.8,178.9 L50.1,180.3 L50.4,178.7 L50.7,179.4 L51.0,179.8 L51.3,179.0 L51.6,182.5 L51.9,179.9 L52.2,179.2 L52.5,178.6 L52.8,177.8 L53.1,181.6 L53.4,179.3 L53.7,177.0 L54.0,178.0 L54.3,178.8 L54.6,178.2 L54.9,181.1 L55.2,176.8 L55.5,180.0 L55.8,179.3 L56.1,176.8 L56.4,179.1 L56.7,178.9 L57.0,180.0 L57.3,178.2 L57.6,179.6 L57.9,175.9 L58.2,177.0 L58.5,180.6 L58.8,181.1 L59.1,179.1 L59.4,177.9 L59.7,181.1 L60.0,175.1 L60.3,177.6 L60.6,180.4 L60.9,180.3 L61.2,177.1 L61.5,175.5 L61.8,181.9 L62.1,179.4 L62.4,177.4 L62.7,179.2 L63.0,180.8 L63.3,174.2 L63.6,181.2 L63.9,180.5 L64.2,175.2 L64.5,180.6 L64.8,175.7 L65.1,181.3 L65.4,179.9 L65.7,183.4 L66.0,178.0 L66.3,179.1 L66.6,181.1 L66.9,177.9 L67.2,177.8 L67.5,178.4 L67.8,179.0 L68.1,177.1 L68.4,180.1 L68.7,180.2 L69.0,179.3 L69.3,182.4 L69.6,178.5 L69.9,181.7 L70.2,178.1 L70.5,180.6 L70.8,175.5 L71.1,179.6 L71.4,178.9 L71.7,178.2 L72.0,178.0 L72.3,178.5 L72.6,177.8 L72.9,175.0 L73.2,178.1 L73.5,178.2 L73.8,178.2 L74.1,177.2 L74.4,179.0 L74.7,180.7 L75.0,178.7 L75.3,178.3 L75.6,181.8 L75.9,181.1 L76.2,181.0 L76.5,181.4 L76.8,178.6 L77.1,179.0 L77.4,181.3 L77.7,178.2 L78.0,179.0 L78.3,180.0 L78.6,180.0 L78.9,178.7 L79.2,181.1 L79.5,178.9 L79.8,180.6 L80.1,181.3 L80.4,180.5 L80.7,180.7 L81.0,177.1 L81.3,176.8 L81.6,178.1 L81.9,180.2 L82.2,182.1 L82.5,177.0 L82.8,179.9 L83.1,177.7 L83.4,177.9 L83.7,178.8 L84.0,180.6 L84.3,179.7 L84.6,181.5 L84.9,177.4 L85.2,181.0 L85.5,181.1 L85.8,179.4 L86.1,180.2 L86.4,178.2 L86.7,177.2 L87.0,178.5 L87.3,178.1 L87.6,184.8 L87.9,178.4 L88.2,182.5 L88.5,179.7 L88.8,179.9 L89.1,180.7 L89.4,177.9 L89.7,181.1 L90.0,180.1 L90.3,176.5 L90.6,180.5 L90.9,180.4 L91.2,180.2 L91.5,182.4 L91.8,178.6 L92.1,180.3 L92.4,180.8 L92.7,177.7 L93.0,181.6 L93.3,176.6 L93.6,176.9 L93.9,180.4 L94.2,177.3 L94.5,179.2 L94.8,176.3 L95.1,179.5 L95.4,177.2 L95.7,180.0 L96.0,176.5 L96.3,180.2 L96.6,178.9 L96.9,179.5 L97.2,179.3 L97.5,179.7 L97.8,176.9 L98.1,174.5 L98.4,179.5 L98.7,177.6 L99.0,178.6 L99.3,180.2 L99.6,175.7 L99.9,178.0 L100.2,178.3 L100.5,177.4 L100.8,180.1 L101.1,179.2 L101.4,177.9 L101.7,177.6 L102.0,181.0 L102.3,178.2 L102.6,180.6 L102.9,180.3 L103.2,175.9 L103.5,177.4 L103.8,179.5 L104.1,180.1 L104.4,180.9 L104.7,181.0 L105.0,181.4 L105.3,178.8 L105.6,179.1 L105.9,181.0 L106.2,178.7 L106.5,181.5 L106.8,176.5 L107.1,180.7 L107.4,179.2 L107.7,175.8 L108.0,181.4 L108.3,180.1 L108.6,179.5 L108.9,177.5 L109.2,178.6 L109.5,182.4 L109.8,177.9 L110.1,172.9 L110.4,177.9 L110.7,177.2 L111.0,179.3 L111.3,178.8 L111.6,177.8 L111.9,177.9 L112.2,181.5 L112.5,176.8 L112.8,183.3 L113.1,178.5 L113.4,177.5 L113.7,181.0 L114.0,180.6 L114.3,177.6 L114.6,181.0 L114.9,176.1 L115.2,177.8 L115.5,181.7 L115.8,179.1 L116.1,177.1 L116.4,180.5 L116.7,181.3 L117.0,179.5 L117.3,176.1 L117.6,178.9 L117.9,180.4 L118.2,181.0 L118.5,183.1 L118.8,179.1 L119.1,178.7 L119.4,179.5 L119.7,181.9 L120.0,177.8 L120.3,182.1 L120.6,174.4 L120.9,181.1 L121.2,178.4 L121.5,180.5 L121.8,181.0 L122.1,177.4 L122.4,179.5 L122.7,180.1 L123.0,180.8 L123.3,177.9 L123.6,177.8 L123.9,176.1 L124.2,184.6 L124.5,179.4 L124.8,179.3 L125.1,176.9 L125.4,181.6 L125.7,178.8 L126.0,182.5 L126.3,181.4 L126.6,179.9 L126.9,181.2 L127.2,177.7 L127.5,179.2 L127.8,178.8 L128.1,177.5 L128.4,179.9 L128.7,179.6 L129.0,182.6 L129.3,173.6 L129.6,178.7 L129.9,178.2 L130.2,179.1 L130.5,180.8 L130.8,180.7 L131.1,180.0 L131.4,179.1 L131.7,180.9 L132.0,180.7 L132.3,176.5 L132.6,179.5 L132.9,177.4 L133.2,177.8 L133.5,180.3 L133.8,180.2 L134.1,180.3 L134.4,178.4 L134.7,179.7 L135.0,178.4 L135.3,180.9 L135.6,181.4 L135.9,183.5 L136.2,182.6 L136.5,178.6 L136.8,179.3 L137.1,178.4 L137.4,180.8 L137.7,184.0 L138.0,181.6 L138.3,176.1 L138.6,177.9 L138.9,177.8 L139.2,181.2 L139.5,180.3 L139.8,180.9 L140.1,183.7 L140.4,178.7 L140.7,178.7 L141.0,184.1 L141.3,181.0 L141.6,178.9 L141.9,176.5 L142.2,177.5 L142.5,175.7 L142.8,180.5 L143.1,180.5 L143.4,182.3 L143.7,180.2 L144.0,179.1 L144.3,179.0 L144.6,184.1 L144.9,177.1 L145.2,180.8 L145.5,180.5 L145.8,181.7 L146.1,179.7 L146.4,181.5 L146.7,182.1 L147.0,180.3 L147.3,179.7 L147.6,180.2 L147.9,178.7 L148.2,180.2 L148.5,180.0 L148.8,181.0 L149.1,183.2 L149.4,183.1 L149.7,179.8 L150.0,181.8 L150.3,181.2 L150.6,182.1 L150.9,180.7 L151.2,181.2 L151.5,179.8 L151.8,179.2 L152.1,182.4 L152.4,183.2 L152.7,182.0 L153.0,181.6 L153.3,181.3 L153.6,179.9 L153.9,177.4 L154.2,182.1 L154.5,181.2 L154.8,179.8 L155.1,179.0 L155.4,183.3 L155.7,177.4 L156.0,184.2 L156.3,182.1 L156.6,185.4 L156.9,179.5 L157.2,180.9 L157.5,179.9 L157.8,181.2 L158.1,180.5 L158.4,179.5 L158.7,183.0 L159.0,179.5 L159.3,180.0 L159.6,182.0 L159.9,180.0 L160.2,180.2 L160.5,181.7 L160.8,180.3 L161.1,178.7 L161.4,180.9 L161.7,180.6 L162.0,184.3 L162.3,179.0 L162.6,182.9 L162.9,179.6 L163.2,180.4 L163.5,180.5 L163.8,181.7 L164.1,182.8 L164.4,184.5 L164.7,180.0 L165.0,183.7 L165.3,183.1 L165.6,182.7 L165.9,179.8 L166.2,182.9 L166.5,181.0 L166.8,181.9 L167.1,180.7 L167.4,182.5 L167.7,183.4 L168.0,183.4 L168.3,180.9 L168.6,183.2 L168.9,184.1 L169.2,179.6 L169.5,184.1 L169.8,178.8 L170.1,182.4 L170.4,182.5 L170.7,184.2 L171.0,181.9 L171.3,180.5 L171.6,179.9 L171.9,179.1 L172.2,182.9 L172.5,181.0 L172.8,180.1 L173.1,182.5 L173.4,180.0 L173.7,180.7 L174.0,180.6 L174.3,184.7 L174.6,184.3 L174.9,181.3 L175.2,178.6 L175.5,182.1 L175.8,181.7 L176.1,182.3 L176.4,182.7 L176.7,181.0 L177.0,183.4 L177.3,183.2 L177.6,182.1 L177.9,180.9 L178.2,180.8 L178.5,183.0 L178.8,179.6 L179.1,181.4 L179.4,180.3 L179.7,179.1 L180.0,182.9 L180.3,181.7 L180.6,181.8 L180.9,183.4 L181.2,178.9 L181.5,181.7 L181.8,182.4 L182.1,183.4 L182.4,179.8 L182.7,183.2 L183.0,182.3 L183.3,184.4 L183.6,184.0 L183.9,182.9 L184.2,186.0 L184.5,181.9 L184.8,181.1 L185.1,181.3 L185.4,180.2 L185.7,181.9 L186.0,178.4 L186.3,181.8 L186.6,182.8 L186.9,183.9 L187.2,181.4 L187.5,184.7 L187.8,180.8 L188.1,181.8 L188.4,178.5 L188.7,180.6 L189.0,180.6 L189.3,184.9 L189.6,183.1 L189.9,180.1 L190.2,183.1 L190.5,183.0 L190.8,181.7 L191.1,182.2 L191.4,181.6 L191.7,181.2 L192.0,178.9 L192.3,182.0 L192.6,184.6 L192.9,184.9 L193.2,181.7 L193.5,180.9 L193.8,181.9 L194.1,183.9 L194.4,182.9 L194.7,181.2 L195.0,183.0 L195.3,181.9 L195.6,183.3 L195.9,181.6 L196.2,179.6 L196.5,182.5 L196.8,183.8 L197.1,180.3 L197.4,182.2 L197.7,184.0 L198.0,181.7 L198.3,181.2 L198.6,186.2 L198.9,184.0 L199.2,184.4 L199.5,180.7 L199.8,185.5 L200.1,179.4 L200.4,181.5 L200.7,183.8 L201.0,184.9 L201.3,180.8 L201.6,181.2 L201.9,182.8 L202.2,178.9 L202.5,183.6 L202.8,183.5 L203.1,181.6 L203.4,183.4 L203.7,183.9 L204.0,183.0 L204.3,183.4 L204.6,185.2 L204.9,181.5 L205.2,182.7 L205.5,181.4 L205.8,184.3 L206.1,181.7 L206.4,183.3 L206.7,182.6 L207.0,182.5 L207.3,185.5 L207.6,182.2 L207.9,185.0 L208.2,183.9 L208.5,184.8 L208.8,182.1 L209.1,184.1 L209.4,183.7 L209.7,181.2 L210.0,182.8 L210.3,182.1 L210.6,182.3 L210.9,184.7 L211.2,181.0 L211.5,179.2 L211.8,179.1 L212.1,181.5 L212.4,181.1 L212.7,182.3 L213.0,183.3 L213.3,185.5 L213.6,182.9 L213.9,183.1 L214.2,180.9 L214.5,183.3 L214.8,184.8 L215.1,184.7 L215.4,178.7 L215.7,183.9 L216.0,185.2 L216.3,183.8 L216.6,179.5 L216.9,181.7 L217.2,183.3 L217.5,183.0 L217.8,180.7 L218.1,180.6 L218.4,184.0 L218.7,179.8 L219.0,184.8 L219.3,182.2 L219.6,182.8 L219.9,179.8 L220.2,181.1 L220.5,183.5 L220.8,179.5 L221.1,186.0 L221.4,179.6 L221.7,179.9 L222.0,182.3 L222.3,183.0 L222.6,183.5 L222.9,181.5 L223.2,181.8 L223.5,181.7 L223.8,181.1 L224.1,177.4 L224.4,183.9 L224.7,182.6 L225.0,182.4 L225.3,181.0 L225.6,182.6 L225.9,182.1 L226.2,182.0 L226.5,184.1 L226.8,179.0 L227.1,182.6 L227.4,180.1 L227.7,181.5 L228.0,184.8 L228.3,180.1 L228.6,181.9 L228.9,181.0 L229.2,183.8 L229.5,180.3 L229.8,179.0 L230.1,183.0 L230.4,181.4 L230.7,181.5 L231.0,184.0 L231.3,180.4 L231.6,181.4 L231.9,182.3 L232.2,182.8 L232.5,181.1 L232.8,183.9 L233.1,186.1 L233.4,181.3 L233.7,185.4 L234.0,178.2 L234.3,184.6 L234.6,181.4 L234.9,182.2 L235.2,181.4 L235.5,180.8 L235.8,179.6 L236.1,181.2 L236.4,184.3 L236.7,184.0 L237.0,181.3 L237.3,181.0 L237.6,180.7 L237.9,179.8 L238.2,185.2 L238.5,183.1 L238.8,182.1 L239.1,181.0 L239.4,180.1 L239.7,184.3 L240.0,183.3 L240.3,180.2 L240.6,183.7 L240.9,179.9 L241.2,183.1 L241.5,180.1 L241.8,181.1 L242.1,182.8 L242.4,182.7 L242.7,183.7 L243.0,180.3 L243.3,184.7 L243.6,184.3 L243.9,181.8 L244.2,182.7 L244.5,180.4 L244.8,181.6 L245.1,179.4 L245.4,182.0 L245.7,182.2 L246.0,184.3 L246.3,183.5 L246.6,183.3 L246.9,181.2 L247.2,181.4 L247.5,181.2 L247.8,182.2 L248.1,178.3 L248.4,183.2 L248.7,178.9 L249.0,180.8 L249.3,181.8 L249.6,180.8 L249.9,184.8 L250.2,181.6 L250.5,184.6 L250.8,183.9 L251.1,180.8 L251.4,182.5 L251.7,184.1 L252.0,181.1 L252.3,181.9 L252.6,180.7 L252.9,181.8 L253.2,181.1 L253.5,181.9 L253.8,183.5 L254.1,184.2 L254.4,181.9 L254.7,182.1 L255.0,183.3 L255.3,181.2 L255.6,179.8 L255.9,183.7 L256.2,180.0 L256.5,183.4 L256.8,179.9 L257.1,185.0 L257.4,179.8 L257.7,183.2 L258.0,184.4 L258.3,179.9 L258.6,184.4 L258.9,180.1 L259.2,178.4 L259.5,182.9 L259.8,182.9 L260.1,181.2 L260.4,177.0 L260.7,181.5 L261.0,181.0 L261.3,180.9 L261.6,181.1 L261.9,178.3 L262.2,180.6 L262.5,184.9 L262.8,184.4 L263.1,180.9 L263.4,180.3 L263.7,182.3 L264.0,183.5 L264.3,182.9 L264.6,179.4 L264.9,181.8 L265.2,181.8 L265.5,184.2 L265.8,183.7 L266.1,182.5 L266.4,183.7 L266.7,180.8 L267.0,184.3 L267.3,180.7 L267.6,182.2 L267.9,183.2 L268.2,179.8 L268.5,180.2 L268.8,178.3 L269.1,181.8 L269.4,181.4 L269.7,180.9 L270.0,182.4 L270.3,177.6 L270.6,181.4 L270.9,181.6 L271.2,181.0 L271.5,182.9 L271.8,184.6 L272.1,180.6 L272.4,179.7 L272.7,180.3 L273.0,181.6 L273.3,182.4 L273.6,179.8 L273.9,183.2 L274.2,179.5 L274.5,182.8 L274.8,182.1 L275.1,182.2 L275.4,185.3 L275.7,180.8 L276.0,181.0 L276.3,182.2 L276.6,182.9 L276.9,178.8 L277.2,181.8 L277.5,179.9 L277.8,182.4 L278.1,183.7 L278.4,181.3 L278.7,181.0 L279.0,181.5 L279.3,175.8 L279.6,182.6 L279.9,182.2 L280.2,181.5 L280.5,180.4 L280.8,179.8 L281.1,180.8 L281.4,183.4 L281.7,180.9 L282.0,183.6 L282.3,176.4 L282.6,180.3 L282.9,181.6 L283.2,181.1 L283.5,178.0 L283.8,179.9 L284.1,183.3 L284.4,178.7 L284.7,179.2 L285.0,179.0 L285.3,180.0 L285.6,182.2 L285.9,182.1 L286.2,177.3 L286.5,183.7 L286.8,179.9 L287.1,179.9 L287.4,184.0 L287.7,180.8 L288.0,178.7 L288.3,179.8 L288.6,179.6 L288.9,179.1 L289.2,180.3 L289.5,182.5 L289.8,181.5 L290.1,178.4 L290.4,186.0 L290.7,179.1 L291.0,181.1 L291.3,180.9 L291.6,182.2 L291.9,180.2 L292.2,181.7 L292.5,184.7 L292.8,181.0 L293.1,178.8 L293.4,181.4 L293.7,179.3 L294.0,180.1 L294.3,181.1 L294.6,181.4 L294.9,180.2 L295.2,182.3 L295.5,180.4 L295.8,178.3 L296.1,182.3 L296.4,180.0 L296.7,182.9 L297.0,179.5 L297.3,181.7 L297.6,181.2 L297.9,175.7 L298.2,177.9 L298.5,178.6 L298.8,183.2 L299.1,177.2 L299.4,182.3 L299.7,182.6 L300.0,181.5 L300.3,181.8 L300.6,179.7 L300.9,180.5 L301.2,181.0 L301.5,181.3 L301.8,181.8 L302.1,180.1 L302.4,179.2 L302.7,179.5 L303.0,181.2 L303.3,177.5 L303.6,178.2 L303.9,179.7 L304.2,179.4 L304.5,180.0 L304.8,175.6 L305.1,179.8 L305.4,180.0 L305.7,181.8 L306.0,176.8 L306.3,179.8 L306.6,181.2 L306.9,181.3 L307.2,182.5 L307.5,182.3 L307.8,178.4 L308.1,181.5 L308.4,179.7 L308.7,178.9 L309.0,183.1 L309.3,179.1 L309.6,178.7 L309.9,179.5 L310.2,178.7 L310.5,182.1 L310.8,180.9 L311.1,182.8 L311.4,181.0 L311.7,179.1 L312.0,182.1 L312.3,179.0 L312.6,179.3 L312.9,179.9 L313.2,180.2 L313.5,182.3 L313.8,179.0 L314.1,180.8 L314.4,180.1 L314.7,177.8 L315.0,178.1 L315.3,179.7 L315.6,180.8 L315.9,180.7 L316.2,181.0 L316.5,180.2 L316.8,179.2 L317.1,180.8 L317.4,178.2 L317.7,177.6 L318.0,179.4 L318.3,177.4 L318.6,179.1 L318.9,178.6 L319.2,179.0 L319.5,179.9 L319.8,178.5 L320.1,179.2 L320.4,176.8 L320.7,180.2 L321.0,178.3 L321.3,180.6 L321.6,174.7 L321.9,178.4 L322.2,180.3 L322.5,175.4 L322.8,179.2 L323.1,180.0 L323.4,180.0 L323.7,177.1 L324.0,180.2 L324.3,180.1 L324.6,178.0 L324.9,181.1 L325.2,179.7 L325.5,179.8 L325.8,178.9 L326.1,180.7 L326.4,179.9 L326.7,181.8 L327.0,180.5 L327.3,178.6 L327.6,179.3 L327.9,181.4 L328.2,179.0 L328.5,180.3 L328.8,180.6 L329.1,179.3 L329.4,175.3 L329.7,179.8 L330.0,180.0 L330.3,179.8 L330.6,178.2 L330.9,181.8 L331.2,179.3 L331.5,178.4 L331.8,178.2 L332.1,180.2 L332.4,177.5 L332.7,177.6 L333.0,183.1 L333.3,181.9 L333.6,181.4 L333.9,181.9 L334.2,180.5 L334.5,176.3 L334.8,181.6 L335.1,181.6 L335.4,180.3 L335.7,175.7 L336.0,181.6 L336.3,181.8 L336.6,178.4 L336.9,179.5 L337.2,180.7 L337.5,179.1 L337.8,181.3 L338.1,179.4 L338.4,180.5 L338.7,179.3 L339.0,176.5 L339.3,177.3 L339.6,185.0 L339.9,179.6 L340.2,181.5 L340.5,181.2 L340.8,182.2 L341.1,180.1 L341.4,177.9 L341.7,179.0 L342.0,175.5 L342.3,178.6 L342.6,180.6 L342.9,174.9 L343.2,179.3 L343.5,180.4 L343.8,181.3 L344.1,177.1 L344.4,177.6 L344.7,175.3 L345.0,176.9 L345.3,179.7 L345.6,182.5 L345.9,176.6 L346.2,181.2 L346.5,179.4 L346.8,177.7 L347.1,182.6 L347.4,173.9 L347.7,178.3 L348.0,178.8 L348.3,182.3 L348.6,181.7 L348.9,182.5 L349.2,178.5 L349.5,180.0 L349.8,180.7 L350.1,179.1 L350.4,178.8 L350.7,177.7 L351.0,177.2 L351.3,175.7 L351.6,181.5 L351.9,177.0 L352.2,173.9 L352.5,178.2 L352.8,177.5 L353.1,177.8 L353.4,180.8 L353.7,177.1 L354.0,176.8 L354.3,175.8 L354.6,177.0 L354.9,176.1 L355.2,177.2 L355.5,182.4 L355.8,177.2 L356.1,174.7 L356.4,179.6 L356.7,177.4 L356.9,177.2 L357.2,176.8 L357.4,176.8 L357.7,176.3 L357.9,177.4 L358.2,176.3 L358.4,176.7 L358.7,172.9 L358.9,173.5 L359.2,171.8 L359.4,174.4 L359.7,173.7 L359.9,170.7 L360.2,171.9 L360.4,174.7 L360.7,171.0 L360.9,165.2 L361.2,165.1 L361.4,164.0 L361.7,159.6 L361.9,156.3 L362.2,152.6 L362.4,144.7 L362.7,134.3 L362.9,128.5 L363.2,116.3 L363.4,104.8 L363.7,90.5 L363.9,75.3 L364.2,61.8 L364.4,50.8 L364.7,38.8 L364.9,28.9 L365.2,21.6 L365.4,17.6 L365.6,17.0 L365.7,17.3 L365.9,20.5 L366.2,27.0 L366.4,36.4 L366.7,48.0 L366.9,60.3 L367.2,72.7 L367.4,83.3 L367.7,103.6 L367.9,111.5 L368.2,123.1 L368.4,134.9 L368.7,137.4 L368.9,150.9 L369.2,152.3 L369.4,159.2 L369.7,160.4 L369.9,164.4 L370.2,165.9 L370.4,167.2 L370.7,165.0 L370.9,166.5 L371.2,169.9 L371.4,173.2 L371.7,170.0 L371.9,172.4 L372.2,172.1 L372.4,173.0 L372.7,174.2 L372.9,169.8 L373.2,173.3 L373.4,172.7 L373.7,172.6 L373.9,171.7 L374.2,172.0 L374.4,171.7 L374.7,171.7 L375.0,178.5 L375.3,177.2 L375.6,174.2 L375.9,175.7 L376.2,172.6 L376.5,169.4 L376.8,171.3 L377.1,175.1 L377.4,177.6 L377.7,174.9 L378.0,173.3 L378.3,174.7 L378.6,173.4 L378.9,172.8 L379.2,175.0 L379.5,174.8 L379.8,174.1 L380.1,174.0 L380.4,174.0 L380.7,176.2 L381.0,178.4 L381.3,175.5 L381.6,180.1 L381.9,173.0 L382.2,176.5 L382.5,173.9 L382.8,175.8 L383.1,176.4 L383.4,177.3 L383.7,178.4 L384.0,175.3 L384.3,174.0 L384.6,176.0 L384.9,177.0 L385.2,175.2 L385.5,178.2 L385.8,179.7 L386.1,173.9 L386.4,177.3 L386.7,178.5 L387.0,173.1 L387.3,177.1 L387.6,176.3 L387.9,174.1 L388.2,179.2 L388.5,177.2 L388.8,176.0 L389.1,177.7 L389.4,178.1 L389.7,178.4 L390.0,178.0 L390.3,177.8 L390.6,174.9 L390.9,176.3 L391.2,177.3 L391.5,172.0 L391.8,181.1 L392.1,176.5 L392.4,175.2 L392.7,173.8 L393.0,177.7 L393.3,177.3 L393.6,176.2 L393.9,176.5 L394.2,175.7 L394.5,176.0 L394.8,177.2 L395.1,176.2 L395.4,178.7 L395.7,177.2 L396.0,177.7 L396.3,178.3 L396.6,179.9 L396.9,178.7 L397.2,178.0 L397.5,177.3 L397.8,176.1 L398.1,177.0 L398.4,178.9 L398.7,178.1 L399.0,177.0 L399.3,175.3 L399.6,174.9 L399.9,178.4 L400.2,179.7 L400.5,178.5 L400.8,175.3 L401.1,177.5 L401.4,178.3 L401.7,176.2 L402.0,178.6 L402.3,177.6 L402.6,176.4 L402.9,175.7 L403.2,179.5 L403.5,178.7 L403.8,176.4 L404.1,176.2 L404.4,179.7 L404.7,179.2 L405.0,177.6 L405.3,181.1 L405.6,177.6 L405.9,176.2 L406.2,180.2 L406.5,177.9 L406.8,178.9 L407.1,178.3 L407.4,176.4 L407.7,176.1 L408.0,178.0 L408.3,180.9 L408.6,176.5 L408.9,180.9 L409.2,178.8 L409.5,176.4 L409.8,178.9 L410.1,179.5 L410.4,176.8 L410.7,174.6 L411.0,179.2 L411.3,176.5 L411.6,179.4 L411.9,175.0 L412.2,178.3 L412.5,177.1 L412.8,175.9 L413.1,178.2 L413.4,179.0 L413.7,177.7 L414.0,176.5 L414.3,179.1 L414.6,175.5 L414.9,179.8 L415.2,179.7 L415.5,181.9 L415.8,180.5 L416.1,179.5 L416.4,179.4 L416.7,178.9 L417.0,176.5 L417.3,181.6 L417.6,179.9 L417.9,178.3 L418.2,176.7 L418.5,181.6 L418.8,179.8 L419.1,176.6 L419.4,180.1 L419.7,182.3 L420.0,178.8 L420.3,179.5 L420.6,178.0 L420.9,177.6 L421.2,180.7 L421.5,184.4 L421.8,178.9 L422.1,178.5 L422.4,180.2 L422.7,178.1 L423.0,180.0 L423.3,180.2 L423.6,176.8 L423.9,176.7 L424.2,178.5 L424.5,180.2 L424.8,179.1 L425.1,180.9 L425.4,176.1 L425.7,179.5 L426.0,177.4 L426.3,178.8 L426.6,179.1 L426.9,176.8 L427.2,178.1 L427.5,176.4 L427.8,179.0 L428.1,176.9 L428.4,177.6 L428.7,178.9 L429.0,177.3 L429.3,180.6 L429.6,177.3 L429.9,180.0 L430.2,178.9 L430.5,176.5 L430.8,178.0 L431.1,176.8 L431.4,177.7 L431.7,177.9 L432.0,181.7 L432.3,177.6 L432.6,181.2 L432.9,179.1 L433.2,175.9 L433.5,174.0 L433.8,179.5 L434.1,174.6 L434.4,179.6 L434.7,180.1 L435.0,179.0 L435.3,177.8 L435.6,177.8 L435.9,178.7 L436.2,177.6 L436.5,177.2 L436.8,177.5 L437.1,180.3 L437.4,177.0 L437.7,178.8 L438.0,176.0 L438.3,176.8 L438.6,175.6 L438.9,177.7 L439.2,179.3 L439.5,178.6 L439.8,177.2 L440.1,179.2 L440.4,177.4 L440.7,178.7 L441.0,178.5 L441.3,179.0 L441.6,173.4 L441.9,175.6 L442.2,179.4 L442.5,177.8 L442.8,182.1 L443.1,177.5 L443.4,176.9 L443.7,180.7 L444.0,178.9 L444.3,181.4 L444.6,178.8 L444.9,177.5 L445.2,179.2 L445.5,176.4 L445.8,177.0 L446.1,176.8 L446.4,177.4 L446.7,179.2 L447.0,176.9 L447.3,178.4 L447.6,176.8 L447.9,179.4 L448.2,172.7 L448.5,177.3 L448.8,178.0 L449.1,175.7 L449.4,179.6 L449.7,178.1 L450.0,180.0 L450.3,179.4 L450.6,178.8 L450.9,177.4 L451.2,175.6 L451.5,177.2 L451.8,176.8 L452.1,178.0 L452.4,176.7 L452.7,183.2 L453.0,174.6 L453.3,179.7 L453.6,176.7 L453.9,177.1 L454.2,179.2 L454.5,177.5 L454.8,175.3 L455.1,178.2 L455.4,177.1 L455.7,173.7 L456.0,177.8 L456.3,175.5 L456.6,176.1 L456.9,178.3 L457.2,177.9 L457.5,176.9 L457.8,181.4 L458.1,178.1 L458.4,176.2 L458.7,177.8 L459.0,177.1 L459.3,173.3 L459.6,174.4 L459.9,174.7 L460.2,181.1 L460.5,176.9 L460.8,176.7 L461.1,176.2 L461.4,179.0 L461.7,177.3 L462.0,180.3 L462.3,178.6 L462.6,180.2 L462.9,177.0 L463.2,177.9 L463.5,176.4 L463.8,176.8 L464.1,174.0 L464.4,176.1 L464.7,175.4 L465.0,175.9 L465.3,179.3 L465.6,177.6 L465.9,179.3 L466.2,178.7 L466.5,178.8 L466.8,178.9 L467.1,176.0 L467.4,178.5 L467.7,176.5 L468.0,176.1 L468.3,179.2 L468.6,181.0 L468.9,175.2 L469.2,180.2 L469.5,178.5 L469.8,175.4 L470.1,177.5 L470.4,177.7 L470.7,177.7 L471.0,176.3 L471.3,174.6 L471.6,177.0 L471.9,178.5 L472.2,178.4 L472.5,178.1 L472.8,178.9 L473.1,175.1 L473.4,176.8 L473.7,177.5 L474.0,178.7 L474.3,177.2 L474.6,177.8 L474.9,177.1 L475.2,180.7 L475.5,172.9 L475.8,176.8 L476.1,181.4 L476.4,177.3 L476.7,173.5 L477.0,177.1 L477.3,174.2 L477.6,175.6 L477.9,177.2 L478.2,179.9 L478.5,177.6 L478.8,178.0 L479.1,178.6 L479.4,177.1 L479.7,175.2 L480.0,176.6 L480.3,177.4 L480.6,176.2 L480.9,175.5 L481.2,176.1 L481.5,174.0 L481.8,174.8 L482.1,176.5 L482.4,176.0 L482.7,176.7 L483.0,179.2 L483.3,177.2 L483.6,176.6 L483.9,174.5 L484.2,174.7 L484.5,177.3 L484.8,175.0 L485.1,177.4 L485.4,174.6 L485.7,176.8 L486.0,176.5 L486.3,178.4 L486.6,175.9 L486.9,175.9 L487.2,177.0 L487.5,176.7 L487.8,179.6 L488.1,176.1 L488.4,175.6 L488.7,175.9 L489.0,177.4 L489.3,176.9 L489.6,177.8 L489.9,174.0 L490.2,181.0 L490.5,179.8 L490.8,176.4 L491.1,174.3 L491.4,176.7 L491.7,177.2 L492.0,172.4 L492.3,176.5 L492.6,173.7 L492.9,177.3 L493.2,178.9 L493.5,178.3 L493.8,173.6 L494.1,178.9 L494.4,178.0 L494.7,175.7 L495.0,177.3 L495.3,179.1 L495.6,175.7 L495.9,176.3 L496.2,175.3 L496.5,178.4 L496.8,172.4 L497.1,178.9 L497.4,174.5 L497.7,178.0 L498.0,173.3 L498.3,174.6 L498.6,175.2 L498.9,177.8 L499.2,173.3 L499.5,177.4 L499.8,175.1 L500.1,178.5 L500.4,175.7 L500.7,177.1 L501.0,175.9 L501.3,179.5 L501.6,175.5 L501.9,176.1 L502.2,179.8 L502.5,176.3 L502.8,177.4 L503.1,174.8 L503.4,176.5 L503.7,172.0 L504.0,176.3 L504.3,174.9 L504.6,173.4 L504.9,173.5 L505.2,178.2 L505.5,176.9 L505.8,173.3 L506.1,179.4 L506.4,174.8 L506.7,175.4 L507.0,176.5 L507.3,174.0 L507.6,173.1 L507.9,174.7 L508.2,178.2 L508.5,177.8 L508.8,173.1 L509.1,178.2 L509.4,176.1 L509.7,176.9 L510.0,176.1 L510.3,176.7 L510.6,174.1 L510.9,174.3 L511.2,174.7 L511.5,175.3 L511.8,177.1 L512.1,173.7 L512.4,178.8 L512.7,174.8 L513.0,174.8 L513.3,177.2 L513.6,176.7 L513.9,175.3 L514.2,173.9 L514.5,174.0 L514.8,172.9 L515.1,177.9 L515.4,177.8 L515.7,179.2 L516.0,176.7 L516.3,176.4 L516.6,177.2 L516.9,177.5 L517.2,175.3 L517.5,176.4 L517.8,179.7 L518.1,172.7 L518.4,173.2 L518.7,174.0 L519.0,177.1 L519.3,177.9 L519.6,175.1 L519.9,176.9 L520.2,175.6 L520.5,176.3 L520.8,174.7 L521.1,175.6 L521.4,175.7 L521.7,177.7 L522.0,179.7 L522.3,172.3 L522.6,176.6 L522.9,175.6 L523.2,177.4 L523.5,177.6 L523.8,177.1 L524.1,177.1 L524.4,173.9 L524.7,172.5 L525.0,178.7 L525.3,177.8 L525.6,173.9 L525.9,178.0 L526.2,176.8 L526.5,171.1 L526.8,177.2 L527.1,173.8 L527.4,177.7 L527.7,174.3 L528.0,174.2 L528.3,172.7 L528.6,175.1 L528.9,177.4 L529.2,174.3 L529.5,172.1 L529.8,179.4 L530.1,178.9 L530.4,176.8 L530.7,174.5 L531.0,173.3 L531.3,172.5 L531.6,176.5 L531.9,177.9 L532.2,173.5 L532.5,175.5 L532.8,174.9 L533.1,175.0 L533.4,176.4 L533.7,179.3 L534.0,174.3 L534.3,177.0 L534.6,177.4 L534.9,174.9 L535.2,175.1 L535.5,172.9 L535.8,177.4 L536.1,174.4 L536.4,174.2 L536.7,175.5 L537.0,173.8 L537.3,173.4 L537.6,174.8 L537.9,178.0 L538.2,174.9 L538.5,176.3 L538.8,172.6 L539.1,171.7 L539.4,178.6 L539.7,174.5 L540.0,172.4 L540.3,175.0 L540.6,176.3 L540.9,172.0 L541.2,173.5 L541.5,175.6 L541.8,173.4 L542.1,176.5 L542.4,176.8 L542.7,175.8 L543.0,174.2 L543.3,174.9 L543.6,173.8 L543.9,174.6 L544.2,175.4 L544.5,174.2 L544.8,176.5 L545.1,179.3 L545.4,173.4 L545.7,174.9 L546.0,175.6 L546.3,174.9 L546.6,172.9 L546.9,172.0 L547.2,174.0 L547.5,172.6 L547.8,171.5 L548.1,168.1 L548.4,169.6 L548.7,168.8 L549.0,165.9 L549.3,166.4 L549.6,168.4 L549.9,160.5 L550.2,164.9 L550.5,161.8 L550.8,161.9 L551.1,164.8 L551.4,167.2 L551.7,167.3 L552.0,166.2 L552.3,166.8 L552.6,169.4 L552.9,171.4 L553.2,170.6 L553.5,170.0 L553.8,176.5 L554.1,172.1 L554.4,173.6 L554.7,173.1 L555.0,173.2 L555.3,174.5 L555.6,174.0 L555.9,175.7 L556.2,172.5 L556.5,172.0 L556.8,178.3 L557.1,174.6 L557.4,176.2 L557.7,177.0 L558.0,175.8 L558.3,174.9 L558.6,172.0 L558.9,171.9 L559.2,176.7 L559.5,176.1 L559.8,175.9 L560.1,171.8 L560.4,171.0 L560.7,173.0 L561.0,172.7 L561.3,175.2 L561.6,173.0 L561.9,177.8 L562.2,173.8 L562.5,173.9 L562.8,176.5 L563.1,175.5 L563.4,173.3 L563.7,176.5 L564.0,178.5 L564.3,172.7 L564.6,174.5 L564.9,173.0 L565.2,171.4 L565.5,176.1 L565.8,176.2 L566.1,176.7 L566.4,175.7 L566.7,171.2 L567.0,174.9 L567.3,173.7 L567.6,172.8 L567.9,172.9 L568.2,176.3 L568.5,174.4 L568.8,178.5 L569.1,175.8 L569.4,171.4 L569.7,176.6 L570.0,177.2 L570.3,175.0 L570.6,172.7 L570.9,178.2 L571.2,172.5 L571.5,174.7 L571.8,171.4 L572.1,172.6 L572.4,171.7 L572.7,176.9 L573.0,177.0 L573.3,174.1 L573.6,172.4 L573.9,174.7 L574.2,175.6 L574.5,172.0 L574.8,172.7 L575.1,174.7 L575.4,176.1 L575.7,175.0 L576.0,175.7 L576.3,172.5 L576.6,170.2 L576.9,175.4 L577.2,173.1 L577.5,174.6 L577.8,174.1 L578.1,175.7 L578.4,173.4 L578.7,177.5 L579.0,174.8 L579.3,175.8 L579.6,176.0 L579.9,176.7 L580.2,175.5 L580.5,171.5 L580.8,173.6 L581.1,178.2 L581.4,175.6 L581.7,175.8 L582.0,175.6 L582.3,173.6 L582.6,173.5 L582.9,173.5 L583.2,176.9 L583.5,175.4 L583.8,178.0 L584.1,175.6 L584.4,178.2 L584.7,175.6 L585.0,172.5 L585.3,177.9 L585.6,175.3 L585.9,176.9 L586.2,175.1 L586.5,174.1 L586.8,175.0 L587.1,172.6 L587.4,172.4 L587.7,173.0 L588.0,173.7 L588.3,172.1 L588.6,174.5 L588.9,175.2 L589.2,178.4 L589.5,178.1 L589.8,174.5 L590.1,176.3 L590.4,174.2 L590.7,175.4 L591.0,174.6 L591.3,173.6 L591.6,174.8 L591.9,171.8 L592.2,175.4 L592.5,174.1 L592.8,172.6 L593.1,173.9 L593.4,175.6 L593.7,173.3 L594.0,175.5 L594.3,175.6 L594.6,177.5 L594.9,172.5 L595.2,174.4 L595.5,175.5 L595.8,177.4 L596.1,175.0 L596.4,176.0 L596.7,171.8 L597.0,173.4 L597.3,177.6 L597.6,174.0 L597.9,178.6 L598.2,173.2 L598.5,174.0 L598.8,171.5 L599.1,175.7 L599.4,175.0 L599.7,178.3 L600.0,174.8 L600.3,174.0 L600.6,171.8 L600.9,174.3 L601.2,176.2 L601.5,175.8 L601.8,176.7 L602.1,176.1 L602.4,174.3 L602.7,175.6 L603.0,174.7 L603.3,171.9 L603.6,177.6 L603.9,175.1 L604.2,172.4 L604.5,175.1 L604.8,174.9 L605.1,176.2 L605.4,177.1 L605.7,168.7 L606.0,175.4 L606.3,177.2 L606.6,172.6 L606.9,170.8 L607.2,174.9 L607.5,175.0 L607.8,175.0 L608.1,172.2 L608.4,173.4 L608.7,174.7 L609.0,175.7 L609.3,178.4 L609.6,174.8 L609.9,173.1 L610.2,169.8 L610.5,176.3 L610.8,174.0 L611.1,174.0 L611.4,172.4 L611.7,175.6 L612.0,170.8 L612.3,174.4 L612.6,174.4 L612.9,174.8 L613.2,176.7 L613.5,174.0 L613.8,174.4 L614.1,175.8 L614.4,171.2 L614.7,173.6 L615.0,174.3 L615.3,175.9 L615.6,172.6 L615.9,175.7 L616.2,174.9 L616.5,171.3 L616.8,171.3 L617.1,171.4 L617.4,174.4 L617.7,174.5 L618.0,175.5 L618.3,175.6 L618.6,173.0 L618.9,176.1 L619.2,175.6 L619.5,174.9 L619.8,175.0 L620.1,171.6 L620.4,174.7 L620.7,172.1 L621.0,171.8 L621.3,173.4 L621.6,174.3 L621.9,173.9 L622.2,173.4 L622.5,172.1 L622.8,174.3 L623.1,172.6 L623.4,171.3 L623.7,174.1 L624.0,176.7 L624.3,173.2 L624.6,171.9 L624.9,176.6 L625.2,177.2 L625.5,173.4 L625.8,173.5 L626.1,174.3 L626.4,179.5 L626.7,174.1 L627.0,175.8 L627.3,174.7 L627.6,170.4 L627.9,171.8 L628.2,171.5 L628.5,174.7 L628.8,174.0 L629.1,177.2 L629.4,173.3 L629.7,174.4 L630.0,174.0 L630.3,174.1 L630.6,178.2 L630.9,174.3 L631.2,176.6 L631.5,176.2 L631.8,172.6 L632.1,175.1 L632.4,173.0 L632.7,174.0 L633.0,174.1 L633.3,173.8 L633.6,172.9 L633.9,176.7 L634.2,173.2 L634.5,175.1 L634.8,176.9 L635.1,174.9 L635.4,175.6 L635.7,176.3 L636.0,175.7 L636.3,176.9 L636.6,171.0 L636.9,177.4 L637.2,173.7 L637.5,170.3 L637.8,172.4 L638.1,171.0 L638.4,173.6 L638.7,170.8 L639.0,171.7 L639.3,174.2 L639.6,173.9 L639.9,172.1 L640.2,173.2 L640.5,173.4 L640.8,173.7 L641.1,173.6 L641.4,173.1 L641.7,175.2 L642.0,170.5 L642.3,172.6 L642.6,173.8 L642.9,172.8 L643.2,172.5 L643.5,172.7 L643.8,173.9 L644.1,175.9 L644.4,173.1 L644.7,173.0 L645.0,174.2 L645.3,173.0 L645.6,169.8 L645.9,174.0 L646.2,172.7 L646.5,172.4 L646.8,174.6 L647.1,173.5 L647.4,172.4 L647.7,169.3 L648.0,170.2 L648.3,173.4 L648.6,173.2 L648.9,174.2 L649.2,173.8 L649.5,172.5 L649.8,171.0 L650.1,171.3 L650.4,173.1 L650.7,171.2 L651.0,174.8 L651.3,170.8 L651.6,169.9 L651.9,173.0 L652.2,170.0 L652.5,176.4 L652.8,171.4 L653.1,173.2 L653.4,172.8 L653.7,171.7 L654.0,169.9 L654.3,169.7 L654.6,174.9 L654.9,175.2 L655.2,177.4 L655.5,170.5 L655.8,174.3 L656.1,173.2 L656.4,174.8 L656.7,172.3 L657.0,174.6 L657.3,174.9 L657.6,174.4 L657.9,175.9 L658.2,172.9 L658.5,176.1 L658.8,171.8 L659.1,176.3 L659.4,167.9 L659.7,173.2 L660.0,171.6 L660.3,173.1 L660.6,175.1 L660.9,174.5 L661.2,173.3 L661.5,176.4 L661.8,170.3 L662.1,171.6 L662.4,176.0 L662.7,173.7 L663.0,169.1 L663.3,173.7 L663.6,170.8 L663.9,175.9 L664.2,175.2 L664.5,172.0 L664.8,175.5 L665.1,171.5 L665.4,174.8 L665.7,174.1 L666.0,172.8 L666.3,170.3 L666.6,172.5 L666.9,168.6 L667.2,171.9 L667.5,169.5 L667.8,175.3 L668.1,171.1 L668.4,168.3 L668.7,174.1 L669.0,173.7 L669.3,172.0 L669.6,177.0 L669.9,174.4 L670.2,173.1 L670.5,171.7 L670.8,167.3 L671.1,173.8 L671.4,174.7 L671.7,171.8 L672.0,170.2 L672.3,172.8 L672.6,169.7 L672.9,172.9 L673.2,174.3 L673.5,175.7 L673.8,173.3 L674.1,173.2 L674.4,174.3 L674.7,175.5 L675.0,172.2 L675.3,170.5 L675.6,171.3 L675.9,170.4 L676.2,171.1" fill="none" stroke="#0a780f" stroke-width="3.2" stroke-linejoin="round"/><line x1="150.2" y1="197" x2="150.2" y2="511" stroke="#9a9a9a" stroke-width="1.5" stroke-dasharray="2.6,2.1"/><line x1="366" y1="150" x2="366" y2="511" stroke="#9a9a9a" stroke-width="1.5" stroke-dasharray="2.6,2.1"/><line x1="550.4" y1="172" x2="550.4" y2="511" stroke="#9a9a9a" stroke-width="1.5" stroke-dasharray="2.6,2.1"/><line x1="143" y1="208.9" x2="157" y2="208.9" stroke="#777" stroke-width="1.4"/><path d="M156,204.9 L175.5,208.9 L156,212.9 Z" fill="#000"/><line x1="143" y1="256.8" x2="157" y2="256.8" stroke="#777" stroke-width="1.4"/><path d="M156,252.8 L175.5,256.8 L156,260.8 Z" fill="#000"/><path d="M49.5,4.4 H676.2 V512.4 H49.5 Z" fill="none" stroke="#000" stroke-width="2.2"/><line x1="49.5" y1="4" x2="49.5" y2="513.5" stroke="#000" stroke-width="3"/><line x1="48" y1="512.4" x2="677" y2="512.4" stroke="#000" stroke-width="2.2"/><path d="M49.6,512 V505.3 M58.7,512 V508.6 M67.8,512 V508.6 M76.9,512 V508.6 M85.9,512 V508.6 M95.0,512 V508.6 M104.1,512 V508.6 M113.2,512 V508.6 M122.3,512 V508.6 M131.4,512 V508.6 M140.4,512 V505.3 M149.5,512 V508.6 M158.6,512 V508.6 M167.7,512 V508.6 M176.8,512 V508.6 M185.9,512 V508.6 M195.0,512 V508.6 M204.0,512 V508.6 M213.1,512 V508.6 M222.2,512 V508.6 M231.3,512 V505.3 M240.4,512 V508.6 M249.5,512 V508.6 M258.6,512 V508.6 M267.6,512 V508.6 M276.7,512 V508.6 M285.8,512 V508.6 M294.9,512 V508.6 M304.0,512 V508.6 M313.1,512 V508.6 M322.2,512 V505.3 M331.2,512 V508.6 M340.3,512 V508.6 M349.4,512 V508.6 M358.5,512 V508.6 M367.6,512 V508.6 M376.7,512 V508.6 M385.7,512 V508.6 M394.8,512 V508.6 M403.9,512 V508.6 M413.0,512 V505.3 M422.1,512 V508.6 M431.2,512 V508.6 M440.3,512 V508.6 M449.3,512 V508.6 M458.4,512 V508.6 M467.5,512 V508.6 M476.6,512 V508.6 M485.7,512 V508.6 M494.8,512 V508.6 M503.9,512 V505.3 M512.9,512 V508.6 M522.0,512 V508.6 M531.1,512 V508.6 M540.2,512 V508.6 M549.3,512 V508.6 M558.4,512 V508.6 M567.4,512 V508.6 M576.5,512 V508.6 M585.6,512 V508.6 M594.7,512 V505.3 M603.8,512 V508.6 M612.9,512 V508.6 M622.0,512 V508.6 M631.0,512 V508.6 M640.1,512 V508.6 M649.2,512 V508.6 M658.3,512 V508.6 M667.4,512 V508.6" stroke="#000" stroke-width="2.4"/><text transform="translate(37.51,536.30) scale(1.1600,1)" class="t" font-size="20.5" fill="#000">10</text><text transform="translate(128.81,536.30) scale(1.1600,1)" class="t" font-size="20.5" fill="#000">20</text><text transform="translate(219.72,536.30) scale(1.1600,1)" class="t" font-size="20.5" fill="#000">30</text><text transform="translate(310.85,536.30) scale(1.1600,1)" class="t" font-size="20.5" fill="#000">40</text><text transform="translate(401.39,536.30) scale(1.1600,1)" class="t" font-size="20.5" fill="#000">50</text><text transform="translate(492.31,536.30) scale(1.1600,1)" class="t" font-size="20.5" fill="#000">60</text><text transform="translate(582.88,536.30) scale(1.1600,1)" class="t" font-size="20.5" fill="#000">70</text><text transform="translate(280.05,571.50) scale(1.2072,1)" class="t" font-size="28.6" fill="#000">2θ (degree)</text><text transform="translate(30.20,338.80) scale(1.1500,1.0001) rotate(-90)" class="t" font-size="26.65" fill="#000">Intensity (a/u)</text><line x1="451" y1="18.6" x2="493.7" y2="18.6" stroke="#000000" stroke-width="7.2" stroke-linecap="round"/><text transform="translate(498.31,23.90) scale(1.2032,1)" class="t" font-size="15" fill="#000">(1) PACMC (blend)</text><line x1="451" y1="38.1" x2="493.7" y2="38.1" stroke="#0000f6" stroke-width="7.2" stroke-linecap="round"/><text transform="translate(498.31,43.60) scale(1.1954,1)" class="t" font-size="15" fill="#000">(2) 1.0% CoFe/blend</text><line x1="451" y1="58.1" x2="493.7" y2="58.1" stroke="#fb8604" stroke-width="7.2" stroke-linecap="round"/><text transform="translate(498.31,63.30) scale(1.1954,1)" class="t" font-size="15" fill="#000">(3) 3.0% CoFe/blend</text><line x1="451" y1="78.1" x2="493.7" y2="78.1" stroke="#00fc00" stroke-width="7.2" stroke-linecap="round"/><text transform="translate(498.31,83.00) scale(1.1954,1)" class="t" font-size="15" fill="#000">(4) 6.0% CoFe/blend</text><line x1="450" y1="97.9" x2="494.6" y2="97.9" stroke="#0a780f" stroke-width="3"/><text transform="translate(498.32,102.70) scale(1.1902,1)" class="t" font-size="15" fill="#000">(5) CoFe QDs</text><text transform="translate(58.47,167.80) scale(1.1766,1)" class="t" font-size="18" fill="#0a780f">CoFe QDs (JCPDS no. 48-1818)</text><text transform="translate(374.27,52.60) scale(1.2170,1)" class="t" font-size="15.5" fill="#0a780f">(110)</text><text transform="translate(527.09,151.70) scale(1.2014,1)" class="t" font-size="15.3" fill="#0a780f">(200)</text><text transform="translate(652.48,161.30) scale(1.1858,1)" class="t" font-size="15.8" fill="#0a780f">(5)</text><text transform="translate(651.16,327.90) scale(1.2152,1)" class="t" font-size="15.8" fill="#00fc00">(4)</text><text transform="translate(651.16,383.60) scale(1.2152,1)" class="t" font-size="15.8" fill="#fb8604">(3)</text><text transform="translate(651.47,437.60) scale(1.1976,1)" class="t" font-size="15.8" fill="#0000f6">(2)</text><text transform="translate(651.46,490.60) scale(1.2152,1)" class="t" font-size="15.8" fill="#000000">(1)</text></g></svg></div>
</body></html>
